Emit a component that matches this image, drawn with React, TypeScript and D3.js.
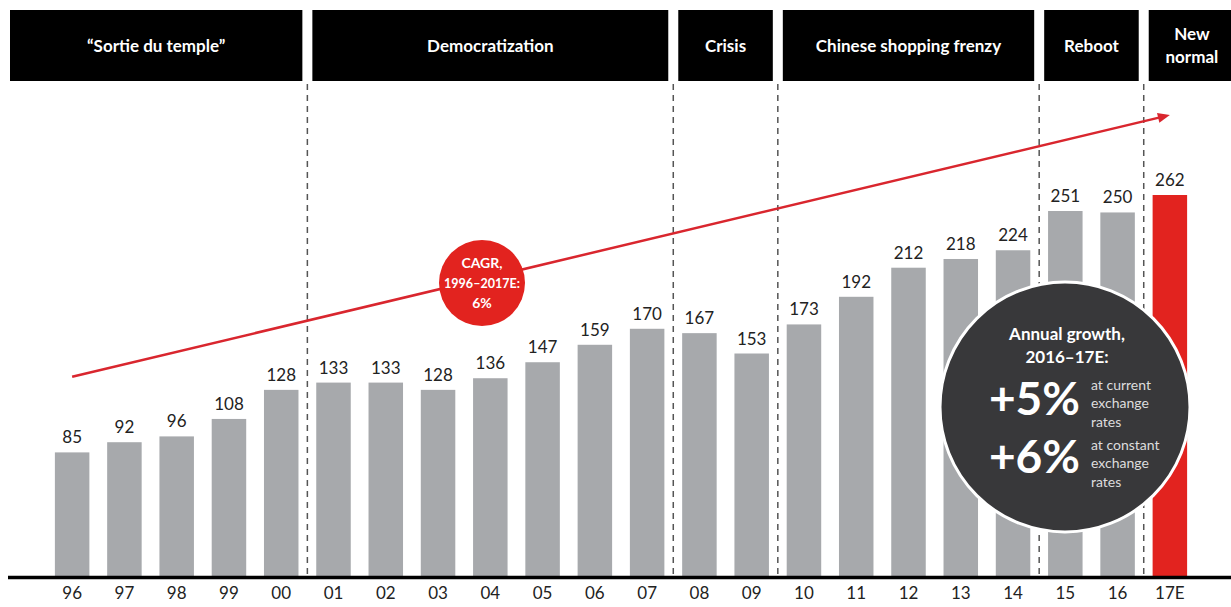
import React from "react";
import * as d3 from "d3";

const years = ["96","97","98","99","00","01","02","03","04","05","06","07","08","09","10","11","12","13","14","15","16","17E"];
const values = [85,92,96,108,128,133,133,128,136,147,159,170,167,153,173,192,212,218,224,251,250,262];
const phaseLabels = [["“Sortie du temple”"],["Democratization"],["Crisis"],["Chinese shopping frenzy"],["Reboot"],["New","normal"]];
const phaseStart = [0,5,12,14,19,21];
const phaseEnd = [4,11,13,18,20,21];
const trendValues = [137, 317];

const W = 1231, H = 607;
const GREY = "#a7a9ac", RED = "#e2231f", FONT = "Lato, 'Open Sans', sans-serif";

export default function App() {
  const x = d3.scaleBand<string>().domain(years).range([46, 1196]).paddingInner(0.34).paddingOuter(0.17);
  const y = d3.scaleLinear().domain([0, 262]).range([576, 195]);
  const step = x.step();
  const boundaries = phaseStart.slice(1).map(i => (x(years[i]) as number) - (step - x.bandwidth()) / 2);
  const cx = (i: number) => (x(years[i]) as number) + x.bandwidth() / 2;

  const x1 = cx(0), y1 = y(trendValues[0]);
  const x2 = cx(years.length - 1), y2 = y(trendValues[1]);
  const ang = Math.atan2(y2 - y1, x2 - x1);
  const ah = 12, aw = 5;
  const arrow = [
    [x2, y2],
    [x2 - ah * Math.cos(ang) + aw * Math.sin(ang), y2 - ah * Math.sin(ang) - aw * Math.cos(ang)],
    [x2 - ah * Math.cos(ang) - aw * Math.sin(ang), y2 - ah * Math.sin(ang) + aw * Math.cos(ang)],
  ];

  return (
    <svg width={W} height={H} style={{ position: "absolute", left: 0, top: 0, background: "#fff" }} fontFamily={FONT}>
      {/* header boxes */}
      {phaseLabels.map((lab, i) => {
        const left = i === 0 ? 10 : boundaries[i - 1] + 5;
        const right = i === phaseLabels.length - 1 ? W + 5 : boundaries[i] - 5;
        const mid = i === phaseLabels.length - 1 ? (left + W) / 2 + 2 : (left + right) / 2;
        return (
          <g key={i}>
            <rect x={left} y={10} width={right - left} height={71} fill="#000" />
            {lab.map((t, j) => (
              <text key={j} x={mid} y={46 + (j - (lab.length - 1) / 2) * 23} dy="0.35em" textAnchor="middle"
                fill="#fff" fontSize={17} fontWeight={700}>{t}</text>
            ))}
          </g>
        );
      })}
      {/* dividers */}
      {boundaries.map((b, i) => (
        <line key={i} x1={b} x2={b} y1={84} y2={576} stroke="#555" strokeWidth={1.5} strokeDasharray="6,5" />
      ))}
      {/* bars */}
      {values.map((v, i) => (
        <g key={i}>
          <rect x={x(years[i])} y={y(v)} width={x.bandwidth()} height={576 - y(v)}
            fill={i === values.length - 1 ? RED : GREY} />
          <text x={cx(i)} y={y(v) - 9} textAnchor="middle" fontSize={17} fill="#222">{v}</text>
          <text x={cx(i)} y={599} textAnchor="middle" fontSize={17} fill="#222">{years[i]}</text>
        </g>
      ))}
      {/* baseline */}
      <line x1={8} x2={W} y1={577.5} y2={577.5} stroke="#000" strokeWidth={3.5} />
      {/* trend */}
      <line x1={x1} y1={y1} x2={x2 - 8 * Math.cos(ang)} y2={y2 - 8 * Math.sin(ang)} stroke="#d9262e" strokeWidth={2.5} />
      <polygon points={arrow.map(p => p.join(",")).join(" ")} fill="#d9262e" />
      {/* CAGR circle */}
      <circle cx={482} cy={283} r={43} fill={RED} />
      <text x={482} y={263} dy="0.35em" textAnchor="middle" fill="#fff" fontSize={14} fontWeight={700}>CAGR,</text>
      <text x={482} y={283} dy="0.35em" textAnchor="middle" fill="#fff" fontSize={14} fontWeight={700}
        textLength={76} lengthAdjust="spacingAndGlyphs">1996–2017E:</text>
      <text x={482} y={303} dy="0.35em" textAnchor="middle" fill="#fff" fontSize={14} fontWeight={700}>6%</text>
      {/* annual growth circle */}
      <circle cx={1065} cy={407} r={125} fill="#38383a" stroke="#fff" strokeWidth={3} />
      <text x={1067} y={334} dy="0.35em" textAnchor="middle" fill="#fff" fontSize={17} fontWeight={700}>Annual growth,</text>
      <text x={1067} y={357} dy="0.35em" textAnchor="middle" fill="#fff" fontSize={17} fontWeight={700}>2016–17E:</text>
      <text x={1080} y={399} dy="0.35em" textAnchor="end" fill="#fff" fontSize={46} fontWeight={700}>+5%</text>
      <text x={1080} y={457} dy="0.35em" textAnchor="end" fill="#fff" fontSize={46} fontWeight={700}>+6%</text>
      {["at current","exchange","rates"].map((t, j) => (
        <text key={"a" + j} x={1091} y={385 + j * 18.5} dy="0.35em" fill="#ddd" fontSize={14}>{t}</text>
      ))}
      {["at constant","exchange","rates"].map((t, j) => (
        <text key={"b" + j} x={1091} y={445 + j * 18.5} dy="0.35em" fill="#ddd" fontSize={14}>{t}</text>
      ))}
    </svg>
  );
}
